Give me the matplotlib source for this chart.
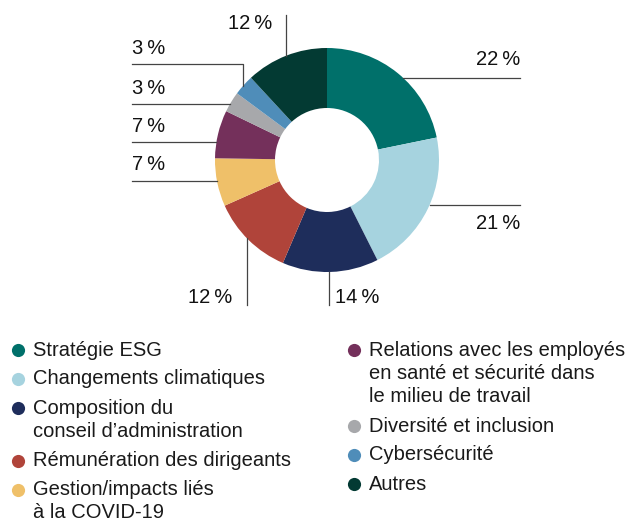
import numpy as np
from matplotlib import pyplot as plt

# Data
labels = ["Stratégie ESG", "Changements climatiques",
          "Composition du\nconseil d\u2019administration",
          "Rémunération des dirigeants", "Gestion/impacts liés\nà la COVID-19",
          "Relations avec les employés\nen santé et sécurité dans\nle milieu de travail",
          "Diversité et inclusion", "Cybersécurité", "Autres"]
values = [22, 21, 14, 12, 7, 7, 3, 3, 12]
colors = ["#00706a", "#a6d3df", "#1e2d5b", "#b0443a", "#efc069",
          "#74305b", "#a7a8ab", "#4f8db9", "#033a33"]

plt.rcParams['font.family'] = ['Liberation Sans', 'DejaVu Sans']
W, H = 631, 521
fig = plt.figure(figsize=(W / 100, H / 100), dpi=100)
ax = fig.add_axes([0, 0, 1, 1])

# Donut (pixel coords, y axis flipped so angles are mirrored)
cx, cy, R = 327, 160, 112
ax.pie(values, colors=colors, startangle=-90, counterclock=True,
       center=(cx, cy), radius=R, wedgeprops=dict(width=60, linewidth=0))
ax.set_xlim(0, W)
ax.set_ylim(H, 0)
ax.axis('off')

def edge_x(yl, side):
    return cx + side * np.sqrt(R ** 2 - (yl - cy) ** 2)

def edge_y(xl, side):
    return cy + side * np.sqrt(R ** 2 - (xl - cx) ** 2)

lc = dict(color="#444444", lw=0.9)
pct = lambda v: f"{v}\u2009%"
tk = dict(fontsize=14.5, color="#111111")

# Leader lines + labels
# Stratégie ESG
ax.plot([edge_x(78, 1), 520], [78, 78], **lc)
ax.text(520, 65, pct(values[0]), ha='right', va='baseline', **tk)
# Changements climatiques
ax.plot([edge_x(205, 1), 520], [205, 205], **lc)
ax.text(520, 229, pct(values[1]), ha='right', va='baseline', **tk)
# Composition
ax.plot([329, 329], [edge_y(329, 1), 305], **lc)
ax.text(335, 303, pct(values[2]), ha='left', va='baseline', **tk)
# Rémunération
ax.plot([247, 247], [edge_y(247, 1), 305], **lc)
ax.text(232, 303, pct(values[3]), ha='right', va='baseline', **tk)
# Gestion COVID
ax.plot([132, edge_x(181, -1)], [181, 181], **lc)
ax.text(132, 170, pct(values[4]), ha='left', va='baseline', **tk)
# Relations
ax.plot([132, edge_x(142, -1)], [142, 142], **lc)
ax.text(132, 132, pct(values[5]), ha='left', va='baseline', **tk)
# Diversité
ax.plot([132, edge_x(104, -1)], [104, 104], **lc)
ax.text(132, 94, pct(values[6]), ha='left', va='baseline', **tk)
# Cybersécurité
ax.plot([132, 243, 243], [64, 64, edge_y(243, -1)], **lc)
ax.text(132, 54, pct(values[7]), ha='left', va='baseline', **tk)
# Autres
ax.plot([286, 286], [15, edge_y(286, -1)], **lc)
ax.text(272, 29, pct(values[8]), ha='right', va='baseline', **tk)

# Legend, two columns drawn by hand
lk = dict(fontsize=14.5, color="#1a1a1a")
cols = [(range(0, 5), 18), (range(5, 9), 354)]
for idx, xm in cols:
    y = 350
    for i in idx:
        ax.scatter([xm], [y], s=90, color=colors[i], linewidths=0)
        lines = labels[i].split("\n")
        for k, line in enumerate(lines):
            ax.text(xm + 15, y + k * 23.5, line, ha='left', va='center', **lk)
        y += 29 + (len(lines) - 1) * 23.5

plt.savefig("out.png", dpi=100)
